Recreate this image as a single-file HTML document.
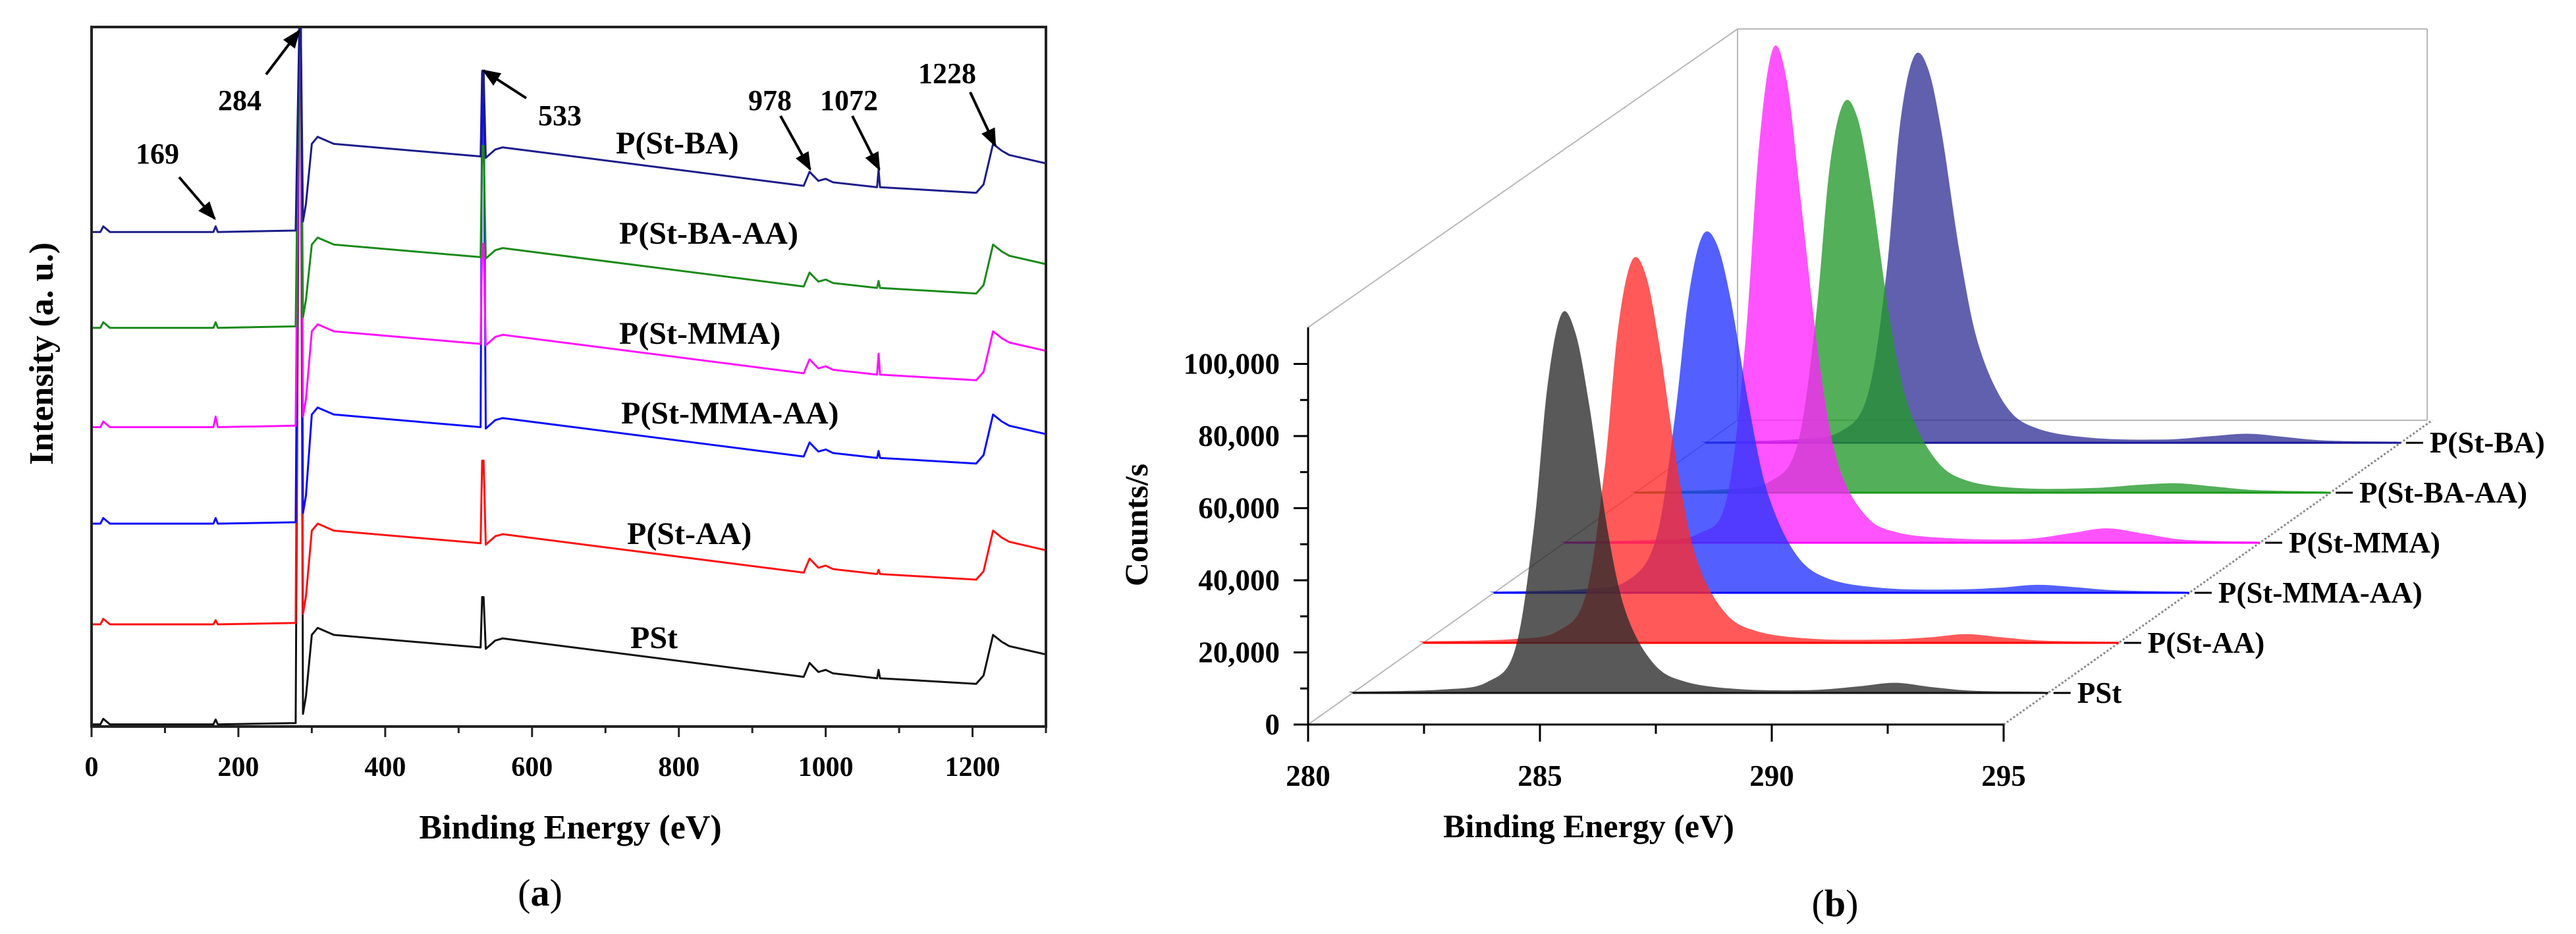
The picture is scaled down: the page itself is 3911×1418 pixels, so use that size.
<!DOCTYPE html>
<html><head><meta charset="utf-8"><style>
html,body{margin:0;padding:0;background:#fff;}
svg{display:block;font-family:"Liberation Serif",serif;}
</style></head><body>
<svg id="fig" width="3911" height="1418" viewBox="0 0 3911 1418" xmlns="http://www.w3.org/2000/svg">
<rect width="3911" height="1418" fill="#fff"/>
<defs><clipPath id="clipA"><rect x="139" y="41" width="1450" height="1062"/></clipPath>
<marker id="arr" viewBox="0 0 10 10" refX="9" refY="5" markerWidth="7" markerHeight="7" orient="auto"><path d="M0,1 L10,5 L0,9 z" fill="#000"/></marker></defs>
<g id="panelA"></g>
<g id="panelB"></g>
</svg>
<script>
// ---------- Panel (a) data ----------
const surveyEnergy = [0,12,16,25,166,169,172,278,283,285,288,292,300,308,330,530,532,534,537,550,560,970,978,990,1000,1010,1070,1072,1074,1205,1215,1228,1240,1250,1300];
const surveyNavy = [70.7,70.7,71.5,70.7,70.7,71.5,70.7,70.9,100,100,72.2,74.7,83.3,84.3,83.3,81.5,93.7,93.7,81.3,82.5,82.8,77.3,79.3,78,78.3,77.8,77.1,79.6,77.1,76.3,77.5,83.3,82.3,81.7,80.5];
const surveyGreen = [57,57,57.8,57,57,57.8,57,57.2,100,100,58.5,61,68.9,69.9,68.9,67.1,83,83,66.9,68.1,68.4,62.9,64.9,63.6,63.9,63.4,62.7,63.7,62.7,61.9,63.1,68.9,67.9,67.3,66.1];
const surveyMagenta = [42.8,42.8,43.6,42.8,42.8,44.3,42.8,43,100,100,44.3,46.8,56.5,57.5,56.5,54.7,69,69,54.5,55.7,56,50.5,52.5,51.2,51.5,51,50.3,53.3,50.3,49.5,50.7,56.5,55.5,54.9,53.7];
const surveyBlue = [29,29,29.8,29,29,29.8,29,29.2,100,100,30.5,33,44.6,45.6,44.6,42.8,93.7,93.7,42.6,43.8,44.1,38.6,40.6,39.3,39.6,39.1,38.4,39.4,38.4,37.6,38.8,44.6,43.6,43,41.8];
const surveyRed = [14.6,14.6,15.4,14.6,14.6,15.2,14.6,14.8,100,100,16.1,18.6,28,29,28,26.2,38,38,26,27.2,27.5,22,24,22.7,23,22.5,21.8,22.4,21.8,21,22.2,28,27,26.4,25.2];
const surveyBlack = [0.3,0.3,1.1,0.3,0.3,1,0.3,0.5,100,100,1.8,4.3,13.1,14.1,13.1,11.3,18.5,18.5,11.1,12.3,12.6,7.1,9.1,7.8,8.1,7.6,6.9,8.1,6.9,6.1,7.3,13.1,12.1,11.5,10.3];
const surveyXTicks = [0,200,400,600,800,1000,1200];
const surveyLabels = ["PSt","P(St-AA)","P(St-MMA-AA)","P(St-MMA)","P(St-BA-AA)","P(St-BA)"];
const peakLabels = ["169","284","533","978","1072","1228"];

// ---------- Panel (b) data ----------
const c1sEnergy = [280,282,283,283.6,284,284.3,284.6,284.9,285.2,285.6,286,286.6,287.3,288.5,290,291,291.8,292.6,293.5,295];
const c1sPSt = [300,900,3000,12000,45000,85000,105000,100000,80000,45000,22000,8000,3000,1000,800,1800,2800,1600,600,300];
const c1sStAA = [400,1000,3200,13000,47000,87000,106000,102000,82000,47000,23000,8500,3200,1100,900,1500,2400,1500,600,300];
const c1sStMMAAA = [300,1000,3500,15000,48000,82000,99000,97000,82000,52000,28000,11000,4000,1300,900,1400,2200,1600,700,300];
const c1sStMMA = [300,800,2500,12000,55000,110000,137000,128000,95000,50000,22000,7500,2800,1200,1000,2600,4000,2500,800,300];
const c1sStBAAA = [300,900,3000,13000,48000,90000,108000,104000,84000,48000,24000,9000,3200,1200,1300,2200,2600,1700,700,300];
const c1sStBA = [300,900,3000,13000,46000,88000,107000,104000,86000,52000,27000,10000,3800,1300,900,1800,2500,1600,600,300];
const c1sXTicks = [280,285,290,295];
const c1sYTicks = [0,20000,40000,60000,80000,100000];
const c1sYTickLabels = ["0","20,000","40,000","60,000","80,000","100,000"];

const NS="http://www.w3.org/2000/svg";
function mk(parent,tag,attrs,text){const e=document.createElementNS(NS,tag);for(const k in attrs)e.setAttribute(k,attrs[k]);if(text!==undefined)e.textContent=text;parent.appendChild(e);return e;}
function smooth(pts,maxY){
 let d='M'+pts[0][0].toFixed(1)+','+pts[0][1].toFixed(1);
 for(let i=0;i<pts.length-1;i++){
  const p0=pts[Math.max(0,i-1)],p1=pts[i],p2=pts[i+1],p3=pts[Math.min(pts.length-1,i+2)];
  const c1=[p1[0]+(p2[0]-p0[0])/6,Math.min(maxY,p1[1]+(p2[1]-p0[1])/6)];
  const c2=[p2[0]-(p3[0]-p1[0])/6,Math.min(maxY,p2[1]-(p3[1]-p1[1])/6)];
  d+=' C'+c1[0].toFixed(1)+','+c1[1].toFixed(1)+' '+c2[0].toFixed(1)+','+c2[1].toFixed(1)+' '+p2[0].toFixed(1)+','+p2[1].toFixed(1);
 }
 return d;
}

// ===== Panel A =====
const A=document.getElementById('panelA');
const ax0=139, ax1=1588, ay0=1103, ay1=41;
const xa=e=>ax0+e*(ax1-ax0)/1300;
const ya=v=>ay0-v*(ay0-ay1)/100;
const traceG=mk(A,'g',{'clip-path':'url(#clipA)'});
const surveySeries=[
 {d:surveyBlack,c:'#111111',n:'trace-pst'},
 {d:surveyRed,c:'#ff1010',n:'trace-p-st-aa'},
 {d:surveyBlue,c:'#0a0aff',n:'trace-p-st-mma-aa'},
 {d:surveyMagenta,c:'#ff10ff',n:'trace-p-st-mma'},
 {d:surveyGreen,c:'#1a8a1a',n:'trace-p-st-ba-aa'},
 {d:surveyNavy,c:'#1c1c8a',n:'trace-p-st-ba'}];
surveySeries.forEach(s=>{
 const p=s.d.map((v,i)=>(i?'L':'M')+xa(surveyEnergy[i]).toFixed(1)+','+ya(v).toFixed(1)).join(' ');
 const el=mk(traceG,'path',{d:p,fill:'none',stroke:s.c,'stroke-width':3,'stroke-linejoin':'round'});
 
 
});
const frame=mk(A,'rect',{x:ax0,y:ay1,width:ax1-ax0,height:ay0-ay1,fill:'none',stroke:'#222','stroke-width':4});


for(let e=0;e<=1300;e+=100){
 const t=mk(A,'line',{x1:xa(e),x2:xa(e),y1:ay0,y2:ay0+(e%200===0?16:10),stroke:'#222','stroke-width':3});
 
 
}
surveyXTicks.forEach(e=>{
 const t=mk(A,'text',{x:xa(e),y:1178,'text-anchor':'middle','font-size':42,'font-weight':'bold'},String(e));
 
 
});
const labY=[984,826,643,522,370,233];
const labX=[957,952,943,940,940,935];
surveyLabels.forEach((l,i)=>{
 const t=mk(A,'text',{x:labX[i],y:labY[i],'font-size':48,'font-weight':'bold'},l);
 
 
});
const annots=[[206,248,272,269,326,332],[331,167,404,113,454,47],[817,190,799,149,734,107],[1136,167,1185,176,1230,257],[1245,167,1294,176,1335,257],[1394,126,1473,140,1511,221]];
peakLabels.forEach((l,i)=>{
 const a=annots[i];
 const t=mk(A,'text',{x:a[0],y:a[1],'font-size':44,'font-weight':'bold'},l);
 
 
 const ar=mk(A,'line',{x1:a[2],y1:a[3],x2:a[4],y2:a[5],stroke:'#000','stroke-width':4,'marker-end':'url(#arr)'});
 
 
});
let t=mk(A,'text',{x:866,y:1273,'text-anchor':'middle','font-size':52,'font-weight':'bold'},'Binding Energy (eV)');

t=mk(A,'text',{x:0,y:0,'text-anchor':'middle','font-size':52,'font-weight':'bold',transform:'translate(80,537) rotate(-90)'},'Intensity (a. u.)');

t=mk(A,'text',{x:820,y:1375,'text-anchor':'middle','font-size':58},'');

mk(t,'tspan',{},'(');mk(t,'tspan',{'font-weight':'bold'},'a');mk(t,'tspan',{},')');

// ===== Panel B =====
const B=document.getElementById('panelB');
const ox=1986, oy=1100, pxPerEv=(3042-1986)/15, pxPerCount=109.5/20000;
const Dx=651, Dy=-462;
const fr=[0.104,0.2685,0.433,0.5975,0.762,0.926];
const proj=(e,c,f)=>[ox+(e-280.1)*pxPerEv+f*Dx, oy-c*pxPerCount+f*Dy];
const gray='#b8b8b8';
[[1986,497,2638,44],[2638,44,3685,44],[3685,44,3685,638],[2638,44,2638,638],[2638,638,3685,638],[1986,1100,2638,638]].forEach(l=>{
 const e=mk(B,'line',{x1:l[0],y1:l[1],x2:l[2],y2:l[3],stroke:gray,'stroke-width':2});
 
});
const rEdge=mk(B,'line',{x1:3042,y1:1100,x2:3693,y2:638,stroke:'#888','stroke-width':3,'stroke-dasharray':'3,3'});

const c1sSeries=[
 {d:c1sStBA,fill:'#333399',line:'#1a1a99',n:'P(St-BA)',k:5},
 {d:c1sStBAAA,fill:'#22992a',line:'#189918',n:'P(St-BA-AA)',k:4},
 {d:c1sStMMA,fill:'#ff22ff',line:'#ff00ff',n:'P(St-MMA)',k:3},
 {d:c1sStMMAAA,fill:'#2233ff',line:'#0000ff',n:'P(St-MMA-AA)',k:2},
 {d:c1sStAA,fill:'#ff2a2a',line:'#ff0000',n:'P(St-AA)',k:1},
 {d:c1sPSt,fill:'#2a2a2a',line:'#111111',n:'PSt',k:0}];
c1sSeries.forEach(s=>{
 const f=fr[s.k];
 const pts=s.d.map((c,i)=>proj(c1sEnergy[i],c,f));
 const b0=[ox+(295-280)*pxPerEv+f*Dx, oy+f*Dy], b1=[ox+f*Dx, oy+f*Dy];
 const p=smooth(pts,b0[1]);
 const area=mk(B,'path',{d:p+' L'+b0[0]+','+b0[1]+' L'+b1[0]+','+b1[1]+' Z',fill:s.fill,'fill-opacity':0.78,stroke:'none'});
 
 
 const bl=mk(B,'line',{x1:b1[0],y1:b1[1],x2:b0[0],y2:b0[1],stroke:s.line,'stroke-width':3});
 
 const tk=mk(B,'line',{x1:b0[0]+8,y1:b0[1],x2:b0[0]+34,y2:b0[1],stroke:'#000','stroke-width':3});
 
 const lb=mk(B,'text',{x:b0[0]+44,y:b0[1]+15,'font-size':45,'font-weight':'bold'},s.n);
 
});
let e=mk(B,'line',{x1:ox,y1:oy,x2:3042,y2:oy,stroke:'#000','stroke-width':3});

e=mk(B,'line',{x1:ox,y1:oy,x2:ox,y2:497,stroke:'#000','stroke-width':3});

c1sXTicks.forEach(v=>{
 const x=ox+(v-280)*pxPerEv;
 const tk=mk(B,'line',{x1:x,x2:x,y1:oy,y2:oy+26,stroke:'#000','stroke-width':3});
 
 const tl=mk(B,'text',{x:x,y:1193,'text-anchor':'middle','font-size':45,'font-weight':'bold'},String(v));
 
});
[282.5,287.5,292.5].forEach(v=>{
 const x=ox+(v-280)*pxPerEv;
 const tk=mk(B,'line',{x1:x,x2:x,y1:oy,y2:oy+14,stroke:'#000','stroke-width':3});
 
});
c1sYTicks.forEach((v,i)=>{
 const y=oy-v*pxPerCount;
 const tk=mk(B,'line',{x1:ox-22,x2:ox,y1:y,y2:y,stroke:'#000','stroke-width':3});
 
 const tl=mk(B,'text',{x:1943,y:y+15,'text-anchor':'end','font-size':45,'font-weight':'bold'},c1sYTickLabels[i]);
 
 const ym=oy-(v+10000)*pxPerCount;
 if(ym>505){const mt=mk(B,'line',{x1:ox-12,x2:ox,y1:ym,y2:ym,stroke:'#000','stroke-width':3});
 }
});
t=mk(B,'text',{x:2412,y:1271,'text-anchor':'middle','font-size':50,'font-weight':'bold'},'Binding Energy (eV)');

t=mk(B,'text',{x:0,y:0,'text-anchor':'middle','font-size':50,'font-weight':'bold',transform:'translate(1742,797) rotate(-90)'},'Counts/s');

t=mk(B,'text',{x:2786,y:1391,'text-anchor':'middle','font-size':58},'');

mk(t,'tspan',{},'(');mk(t,'tspan',{'font-weight':'bold'},'b');mk(t,'tspan',{},')');
</script>
</body></html>
